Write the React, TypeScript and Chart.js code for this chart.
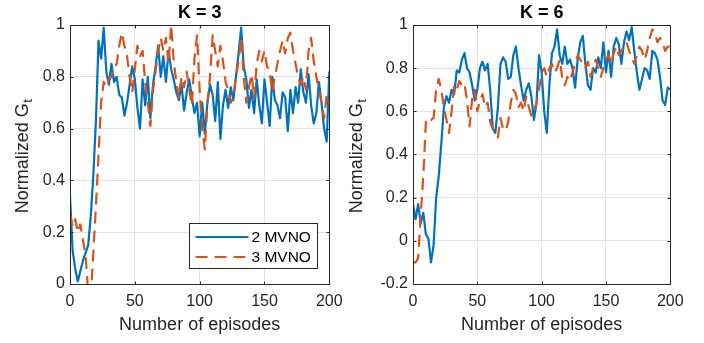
import { useEffect, useRef } from 'react';
import { Chart, registerables } from 'chart.js';

Chart.register(...registerables);

const FONT = '"Liberation Sans", Arial, Helvetica, sans-serif';
const BLUE = '#0072BD';
const ORANGE = '#D95319';
const AXIS = '#262626';
const GRID = '#e3e3e3';

// ---------- data ----------
const episodes = [
  0, 2, 4, 6, 8, 10, 12, 14, 16, 18, 20, 22, 24, 26, 28, 30, 32, 34, 36, 38,
  40, 42, 44, 46, 48, 50, 52, 54, 56, 58, 60, 62, 64, 66, 68, 70, 72, 74, 76, 78,
  80, 82, 84, 86, 88, 90, 92, 94, 96, 98, 100, 102, 104, 106, 108, 110, 112, 114, 116, 118,
  120, 122, 124, 126, 128, 130, 132, 134, 136, 138, 140, 142, 144, 146, 148, 150, 152, 154, 156, 158,
  160, 162, 164, 166, 168, 170, 172, 174, 176, 178, 180, 182, 184, 186, 188, 190, 192, 194, 196, 198, 200,
];

const seriesNames = ['2 MVNO', '3 MVNO'];
const panelTitles = ['K = 3', 'K = 6'];
const xTickValues = [0, 50, 100, 150, 200];
const yTicksK3 = [0, 0.2, 0.4, 0.6, 0.8, 1];
const yTicksK6 = [-0.2, 0, 0.2, 0.4, 0.6, 0.8, 1];

const k3Mvno2 = [
  0.34, 0.13, 0.06, 0.01, 0.05, 0.09, 0.12, 0.15, 0.26, 0.42,
  0.63, 0.94, 0.87, 0.99, 0.82, 0.77, 0.85, 0.78, 0.8, 0.73,
  0.72, 0.65, 0.7, 0.77, 0.84, 0.79, 0.68, 0.6, 0.79, 0.69,
  0.8, 0.64, 0.77, 0.84, 0.92, 0.8, 0.88, 0.78, 0.9, 0.83,
  0.79, 0.74, 0.71, 0.77, 0.67, 0.74, 0.79, 0.72, 0.66, 0.7,
  0.57, 0.7, 0.58, 0.7, 0.77, 0.73, 0.63, 0.78, 0.56, 0.69,
  0.75, 0.68, 0.76, 0.71, 0.8, 0.89, 0.99, 0.84, 0.79, 0.68,
  0.75, 0.66, 0.79, 0.69, 0.62, 0.79, 0.7, 0.61, 0.8, 0.71,
  0.69, 0.64, 0.74, 0.72, 0.59, 0.75, 0.66, 0.76, 0.7, 0.83,
  0.74, 0.7, 0.81, 0.69, 0.62, 0.66, 0.78, 0.7, 0.6, 0.55, 0.82,
];

const k3Mvno3 = [
  0.27, 0.22, 0.25, 0.2, 0.23, 0.17, 0.11, -0.03, -0.05, 0.12,
  0.3, 0.5, 0.7, 0.78, 0.76, 0.79, 0.8, 0.83, 0.85, 0.92,
  0.97, 0.92, 0.88, 0.8, 0.74, 0.83, 0.92, 0.88, 0.9, 0.78,
  0.7, 0.61, 0.75, 0.82, 0.9, 0.95, 0.9, 0.95, 0.85, 1.0,
  0.86, 0.78, 0.72, 0.8, 0.76, 0.82, 0.75, 0.69, 0.87, 0.96,
  0.75, 0.6, 0.52, 0.7, 0.8, 0.96, 0.9, 0.84, 0.92, 0.86,
  0.78, 0.75, 0.7, 0.72, 0.8, 0.86, 0.95, 0.8, 0.7, 0.76,
  0.81, 0.72, 0.85, 0.9, 0.86, 0.9, 0.84, 0.82, 0.74, 0.8,
  0.85, 0.9, 0.94, 0.89, 0.95, 0.97, 0.9, 0.85, 0.8, 0.77,
  0.8, 0.75, 0.9, 0.95, 0.86, 0.8, 0.75, 0.7, 0.64, 0.73, 0.7,
];

const k6Mvno2 = [
  0.17, 0.1, 0.17, 0.08, 0.13, 0.03, 0.01, -0.1, -0.02, 0.2,
  0.3, 0.45, 0.62, 0.67, 0.64, 0.7, 0.68, 0.79, 0.78, 0.84,
  0.87, 0.8, 0.78, 0.72, 0.65, 0.7, 0.8, 0.83, 0.79, 0.82,
  0.7, 0.52, 0.5, 0.62, 0.82, 0.85, 0.83, 0.75, 0.76, 0.86,
  0.9, 0.8, 0.72, 0.65, 0.7, 0.73, 0.67, 0.56, 0.64, 0.86,
  0.78, 0.6, 0.5, 0.72, 0.87, 0.9, 0.98, 0.86, 0.82, 0.9,
  0.82, 0.84, 0.8, 0.71, 0.84, 0.92, 0.95, 0.82, 0.72, 0.7,
  0.8, 0.78, 0.85, 0.8, 0.92, 0.78, 0.88, 0.76, 0.9, 0.94,
  0.91, 0.82, 0.92, 0.97, 0.93, 0.99, 0.88, 0.78, 0.7, 0.75,
  0.8, 0.79, 0.75, 0.88, 0.87, 0.84, 0.76, 0.65, 0.63, 0.71, 0.7,
];

const k6Mvno3 = [
  -0.1, -0.1, -0.08, 0.12, 0.3, 0.55, 0.57, 0.56, 0.57, 0.7,
  0.75, 0.7, 0.62, 0.56, 0.5, 0.6, 0.72, 0.7, 0.74, 0.72,
  0.73, 0.65, 0.53, 0.66, 0.7, 0.6, 0.65, 0.68, 0.62, 0.64,
  0.55, 0.52, 0.5, 0.48, 0.57, 0.52, 0.51, 0.55, 0.64, 0.7,
  0.68, 0.62, 0.64, 0.6, 0.67, 0.62, 0.58, 0.6, 0.64, 0.7,
  0.78, 0.8, 0.76, 0.8, 0.82, 0.78, 0.8, 0.84, 0.76, 0.72,
  0.76, 0.74, 0.78, 0.82, 0.86, 0.84, 0.82, 0.8, 0.83, 0.76,
  0.8, 0.84, 0.8, 0.76, 0.8, 0.84, 0.86, 0.82, 0.87, 0.9,
  0.86, 0.88, 0.9, 0.92, 0.88, 0.85, 0.82, 0.86, 0.9, 0.88,
  0.84, 0.88, 0.94, 0.98, 0.96, 0.92, 0.94, 0.92, 0.88, 0.9, 0.9,
];

// ---------- layout ----------
const W = 704;
const H = 343;

type Panel = {
  title: string;
  yTicks: number[];
  series: number[][];
  plotLeft: number;
  plotRight: number;
  yAxisWidth: number;
  yTitleBaseX: number;
  legend: boolean;
};

const panels: Panel[] = [
  {
    title: panelTitles[0],
    yTicks: yTicksK3,
    series: [k3Mvno2, k3Mvno3],
    plotLeft: 70,
    plotRight: 329.3,
    yAxisWidth: 70,
    yTitleBaseX: 28,
    legend: true,
  },
  {
    title: panelTitles[1],
    yTicks: yTicksK6,
    series: [k6Mvno2, k6Mvno3],
    plotLeft: 413,
    plotRight: 670.3,
    yAxisWidth: 60,
    yTitleBaseX: 362,
    legend: false,
  },
];

const fmt = (v: number) => String(Math.round(v * 10) / 10);

function makeDecor(p: Panel) {
  return {
    id: 'matlabDecor',
    afterDraw(chart: any) {
      const ctx = chart.ctx as CanvasRenderingContext2D;
      const ca = chart.chartArea;
      const xs = chart.scales.x;
      const ys = chart.scales.y;
      ctx.save();
      // box
      const l = Math.round(ca.left) + 0.5;
      const r = Math.round(ca.right) + 0.5;
      const t = Math.round(ca.top) + 0.5;
      const b = Math.round(ca.bottom) + 0.5;
      ctx.strokeStyle = AXIS;
      ctx.lineWidth = 1;
      ctx.beginPath();
      ctx.rect(l, t, r - l, b - t);
      // inward tick marks
      const tl = 3;
      xTickValues.forEach((v) => {
        const x = Math.round(xs.getPixelForValue(v)) + 0.5;
        ctx.moveTo(x, b);
        ctx.lineTo(x, b - tl);
        ctx.moveTo(x, t);
        ctx.lineTo(x, t + tl);
      });
      p.yTicks.forEach((v) => {
        const y = Math.round(ys.getPixelForValue(v)) + 0.5;
        ctx.moveTo(l, y);
        ctx.lineTo(l + tl, y);
        ctx.moveTo(r, y);
        ctx.lineTo(r - tl, y);
      });
      ctx.stroke();

      // title
      ctx.fillStyle = '#000';
      ctx.font = `bold 18px ${FONT}`;
      ctx.textAlign = 'center';
      ctx.textBaseline = 'middle';
      ctx.fillText(p.title, (ca.left + ca.right) / 2, 13);

      // y-axis title with subscript
      ctx.save();
      ctx.fillStyle = AXIS;
      const cy = (ca.top + ca.bottom) / 2 + 2;
      ctx.translate(p.yTitleBaseX, cy);
      ctx.rotate(-Math.PI / 2);
      ctx.textAlign = 'left';
      ctx.textBaseline = 'alphabetic';
      ctx.font = `18px ${FONT}`;
      const main = 'Normalized G';
      const mw = ctx.measureText(main).width;
      ctx.font = `13px ${FONT}`;
      const sw = ctx.measureText('t').width;
      const start = -(mw + sw) / 2;
      ctx.font = `18px ${FONT}`;
      ctx.fillText(main, start, 0);
      ctx.font = `13px ${FONT}`;
      ctx.fillText('t', start + mw + 0.5, 4);
      ctx.restore();

      // legend
      if (p.legend) {
        const bw = 128;
        const bh = 45;
        const bx = Math.round(ca.right - 12 - bw) + 0.5;
        const by = Math.round(ca.bottom - 16 - bh) + 0.5;
        ctx.fillStyle = '#fff';
        ctx.fillRect(bx, by, bw, bh);
        ctx.strokeStyle = AXIS;
        ctx.lineWidth = 1;
        ctx.strokeRect(bx, by, bw, bh);
        chart.data.datasets.forEach((ds: any, i: number) => {
          const yy = by + 13.5 + i * 20;
          ctx.save();
          ctx.strokeStyle = ds.borderColor;
          ctx.lineWidth = ds.borderWidth;
          ctx.setLineDash(ds.borderDash || []);
          ctx.beginPath();
          ctx.moveTo(bx + 6, yy);
          ctx.lineTo(bx + 59, yy);
          ctx.stroke();
          ctx.restore();
          ctx.fillStyle = '#000';
          ctx.font = `15.5px ${FONT}`;
          ctx.textAlign = 'left';
          ctx.textBaseline = 'middle';
          ctx.fillText(ds.label, bx + 62, yy + 0.5);
        });
      }
      ctx.restore();
    },
  };
}

function buildConfig(p: Panel): any {
  const colors = [BLUE, ORANGE];
  return {
    type: 'line',
    data: {
      datasets: p.series.map((vals, i) => ({
        label: seriesNames[i],
        data: episodes.map((x, j) => ({ x, y: vals[j] })),
        borderColor: colors[i],
        backgroundColor: colors[i],
        borderWidth: 2.2,
        borderDash: i === 1 ? [12, 7] : [],
        borderJoinStyle: 'round',
        pointRadius: 0,
        tension: 0,
        fill: false,
        order: i === 0 ? 1 : 0,
      })),
    },
    options: {
      animation: false,
      responsive: false,
      events: [],
      layout: {
        padding: { left: p.plotLeft - p.yAxisWidth, right: W - p.plotRight, top: 25, bottom: 0 },
      },
      plugins: {
        legend: { display: false },
        tooltip: { enabled: false },
        title: { display: false },
      },
      scales: {
        x: {
          type: 'linear',
          min: 0,
          max: 200,
          afterBuildTicks: (s: any) => {
            s.ticks = xTickValues.map((value) => ({ value }));
          },
          afterFit: (s: any) => {
            s.height = 59;
            s.paddingLeft = 0;
            s.paddingRight = 0;
          },
          ticks: {
            font: { family: FONT, size: 16 },
            color: AXIS,
            padding: 8,
            maxRotation: 0,
            autoSkip: false,
            callback: (v: number) => String(v),
          },
          grid: { color: GRID, lineWidth: 1, drawTicks: false },
          border: { display: false },
          title: {
            display: true,
            text: 'Number of episodes',
            font: { family: FONT, size: 18 },
            color: AXIS,
            padding: { top: 0, bottom: 7 },
          },
        },
        y: {
          type: 'linear',
          min: p.yTicks[0],
          max: p.yTicks[p.yTicks.length - 1],
          afterBuildTicks: (s: any) => {
            s.ticks = p.yTicks.map((value) => ({ value }));
          },
          afterFit: (s: any) => {
            s.width = p.yAxisWidth;
            s.paddingTop = 0;
            s.paddingBottom = 0;
          },
          ticks: {
            font: { family: FONT, size: 16 },
            color: AXIS,
            padding: 5,
            autoSkip: false,
            callback: (v: number) => fmt(v),
          },
          grid: { color: GRID, lineWidth: 1, drawTicks: false },
          border: { display: false },
        },
      },
    },
    plugins: [makeDecor(p)],
  };
}

export default function App() {
  const ref0 = useRef<HTMLCanvasElement | null>(null);
  const ref1 = useRef<HTMLCanvasElement | null>(null);

  useEffect(() => {
    const charts: Chart[] = [];
    [ref0, ref1].forEach((r, i) => {
      if (r.current) charts.push(new Chart(r.current, buildConfig(panels[i])));
    });
    return () => charts.forEach((c) => c.destroy());
  }, []);

  const cstyle: any = { position: 'absolute', left: 0, top: 0, width: W, height: H };
  return (
    <div style={{ position: 'absolute', left: 0, top: 0, width: W, height: H, background: '#fff' }}>
      <canvas ref={ref0} width={W} height={H} style={cstyle} />
      <canvas ref={ref1} width={W} height={H} style={cstyle} />
    </div>
  );
}
